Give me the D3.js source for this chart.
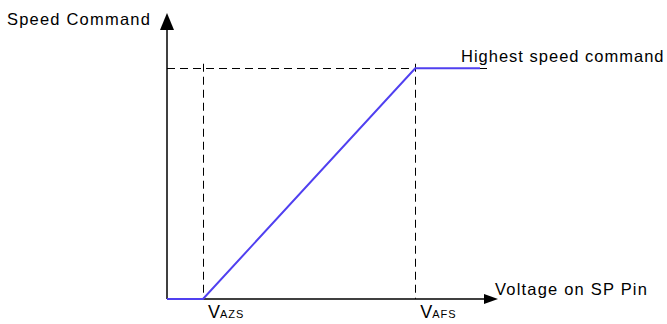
<!DOCTYPE html>
<html>
<head>
<meta charset="utf-8">
<script src="https://cdn.jsdelivr.net/npm/d3@7"></script>
<style>
  body { margin: 0; background: #fff; }
  text { font-family: "Liberation Sans", Arial, sans-serif; fill: #000; }
</style>
</head>
<body>
<svg id="chart" width="667" height="324"></svg>
<script>
// voltage break points (arbitrary units) and the speed command at each
const voltages = [0, 1, 6.9, 8.7];
const speeds = [0, 0, 1, 1];
const markers = [
    { v: 1, label: "V", sub: "AZS" },
    { v: 6.9, label: "V", sub: "AFS" }
];
const xAxisLabel = "Voltage on SP Pin";
const yAxisLabel = "Speed Command";
const maxLabel = "Highest speed command";

const svg = d3.select("#chart");

const x = d3.scaleLinear().domain([0, 9.2]).range([167, 498]);
const y = d3.scaleLinear().domain([0, 1.24]).range([299, 13]);

// snap 1px lines onto the pixel grid so they stay crisp
const crisp = v => Math.round(v) + 0.5;

// dashed guide lines
const dash = "8,5";
svg.append("line")
    .attr("x1", x(0)).attr("x2", x(8.95))
    .attr("y1", crisp(y(1))).attr("y2", crisp(y(1)))
    .attr("stroke", "#000").attr("stroke-width", 1)
    .attr("stroke-dasharray", dash);

svg.selectAll(".vguide")
    .data(markers)
    .enter().append("line")
    .attr("class", "vguide")
    .attr("x1", d => crisp(x(d.v))).attr("x2", d => crisp(x(d.v)))
    .attr("y1", y(1.02)).attr("y2", y(0))
    .attr("stroke", "#000").attr("stroke-width", 1)
    .attr("stroke-dasharray", dash);

// axes with arrow heads
svg.append("line")
    .attr("x1", x(0)).attr("x2", x(8.85))
    .attr("y1", y(0)).attr("y2", y(0))
    .attr("stroke", "#000").attr("stroke-width", 1.5);
svg.append("line")
    .attr("x1", x(0)).attr("x2", x(0))
    .attr("y1", y(0)).attr("y2", y(1.17))
    .attr("stroke", "#000").attr("stroke-width", 1.5);

const xr = x.range()[1];
svg.append("path")
    .attr("d", `M${xr},${y(0)} L${xr - 14},${y(0) - 5} L${xr - 14},${y(0) + 5} Z`)
    .attr("fill", "#000");
svg.append("path")
    .attr("d", `M${x(0)},${y.range()[1]} L${x(0) - 7},${y.range()[1] + 17} L${x(0) + 7},${y.range()[1] + 17} Z`)
    .attr("fill", "#000");

// speed command curve
const line = d3.line()
    .x((d, i) => x(voltages[i]))
    .y(d => y(d));
svg.append("path")
    .datum(speeds)
    .attr("d", line)
    .attr("fill", "none")
    .attr("stroke", "#5040f0")
    .attr("stroke-width", 2);

// labels
svg.append("text")
    .attr("x", 7).attr("y", 25)
    .attr("font-size", 16.5)
    .attr("letter-spacing", 1.2)
    .text(yAxisLabel);

svg.append("text")
    .attr("x", xr - 3).attr("y", y(0) - 4)
    .attr("font-size", 16.5)
    .attr("letter-spacing", 1.2)
    .text(xAxisLabel);

svg.append("text")
    .attr("x", 461).attr("y", y(1) - 6)
    .attr("font-size", 16.5)
    .attr("letter-spacing", 1)
    .text(maxLabel);

const mk = svg.selectAll(".vlabel")
    .data(markers)
    .enter().append("text")
    .attr("class", "vlabel")
    .attr("x", d => x(d.v) + 5)
    .attr("y", 318)
    .attr("font-size", 18);
mk.append("tspan").text(d => d.label);
mk.append("tspan")
    .attr("font-size", 11)
    .attr("letter-spacing", 1)
    .text(d => d.sub);
</script>
</body>
</html>
